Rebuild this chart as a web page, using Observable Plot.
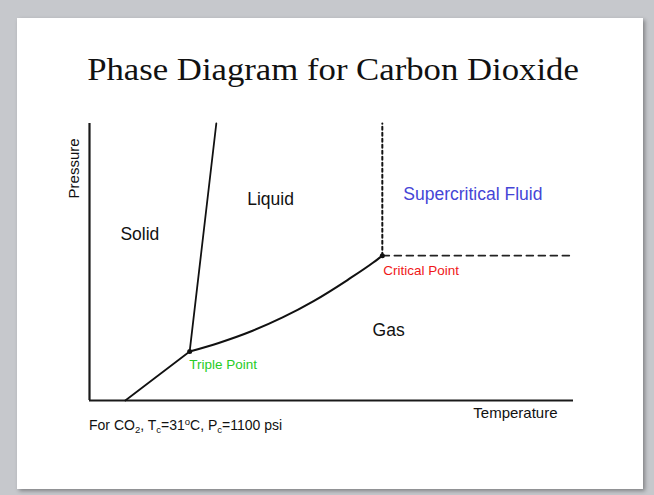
<!DOCTYPE html>
<html>
<head>
<meta charset="utf-8">
<script src="https://cdn.jsdelivr.net/npm/d3@7"></script>
<script src="https://cdn.jsdelivr.net/npm/@observablehq/plot@0.6"></script>
<style>
  html, body { margin: 0; padding: 0; }
  body { width: 654px; height: 495px; background: #c6c8cc; position: relative; overflow: hidden; font-family: "Liberation Sans", Arial, sans-serif; }
  .slide { position: absolute; left: 17px; top: 18px; width: 626px; height: 471px; background: #fff; box-shadow: 2px 2px 4px rgba(0,0,0,0.35); }
  .title { position: absolute; left: 0; width: 666px; top: 50px; text-align: center; font-family: "Liberation Serif", "Times New Roman", serif; font-size: 32px; color: #111; line-height: 38px; transform: scaleX(1.085); transform-origin: 333px 0; }
  #chart { position: absolute; left: 0; top: 100px; }
  .caption { position: absolute; left: 89px; top: 417px; font-size: 14px; color: #111; }
  .caption sub { font-size: 9.5px; vertical-align: -3px; line-height: 0; }
  .caption sup { font-size: 9.5px; vertical-align: 5px; line-height: 0; }
</style>
</head>
<body>
<div class="slide"></div>
<div class="title">Phase Diagram for Carbon Dioxide</div>
<div id="chart"></div>
<div class="caption">For CO<sub>2</sub>, T<sub>c</sub>=31<sup>o</sup>C, P<sub>c</sub>=1100 psi</div>
<script>
// Data in arbitrary chart units (temperature 0–100, pressure 0–100)
const tripleT = 20.7, tripleP = 17.7;
const criticalT = 60.5, criticalP = 52.3;
const sublimationT = [7.4, tripleT];
const sublimationP = [0, tripleP];
const meltingT = [tripleT, 26.2];
const meltingP = [tripleP, 100];
const vaporT = [tripleT, 26.7, 33.7, 39.9, 46.3, 53.3, 58.7, criticalT];
const vaporP = [tripleP, 20.8, 25.2, 30.0, 35.9, 43.5, 49.9, criticalP];
const axisMaxT = 100, axisMaxP = 100;

const regionNames = ["Solid", "Liquid", "Supercritical Fluid", "Gas"];
const regionT = [10.4, 37.4, 79.2, 61.8];
const regionP = [59.9, 72.6, 74.4, 25.3];

const pointNames = ["Triple Point", "Critical Point"];
const pointLabelT = [20.6, 60.7];
const pointLabelP = [13.0, 46.9];

const axisNames = ["Temperature", "Pressure"];

const toRows = (ts, ps) => ts.map((t, i) => ({t, p: ps[i]}));

const regionColor = {"Solid": "#111", "Liquid": "#111", "Gas": "#111", "Supercritical Fluid": "#4545d6"};
const pointColor = {"Triple Point": "#27cc27", "Critical Point": "#f01818"};

const chart = Plot.plot({
  width: 654,
  height: 340,
  marginLeft: 89,
  marginRight: 81,
  marginTop: 23,
  marginBottom: 40,
  style: {background: "transparent", fontFamily: "Liberation Sans, Arial, sans-serif"},
  x: {domain: [0, axisMaxT], axis: null},
  y: {domain: [0, axisMaxP], axis: null},
  marks: [
    Plot.ruleX([0], {y1: 0, y2: axisMaxP, stroke: "#1a1a1a", strokeWidth: 2.2}),
    Plot.ruleY([0], {x1: 0, x2: axisMaxT, stroke: "#1a1a1a", strokeWidth: 2.2}),
    Plot.line(toRows(sublimationT, sublimationP), {x: "t", y: "p", stroke: "#111", strokeWidth: 1.8}),
    Plot.line(toRows(meltingT, meltingP), {x: "t", y: "p", stroke: "#111", strokeWidth: 1.8}),
    Plot.line(toRows(vaporT, vaporP), {x: "t", y: "p", stroke: "#111", strokeWidth: 2.1, curve: "monotone-x"}),
    Plot.line([{t: criticalT, p: criticalP}, {t: criticalT, p: axisMaxP}], {x: "t", y: "p", stroke: "#111", strokeWidth: 2, strokeDasharray: "3,3"}),
    Plot.line([{t: criticalT, p: criticalP}, {t: axisMaxT, p: criticalP}], {x: "t", y: "p", stroke: "#222", strokeWidth: 1.6, strokeDasharray: "7,5"}),
    Plot.dot([{t: tripleT, p: tripleP}, {t: criticalT, p: criticalP}], {x: "t", y: "p", r: 2.5, fill: "#111"}),
    Plot.text(regionNames.map((n, i) => ({n, t: regionT[i], p: regionP[i]})), {
      x: "t", y: "p", text: "n", fontSize: 17.5, fill: d => regionColor[d.n]
    }),
    Plot.text(pointNames.map((n, i) => ({n, t: pointLabelT[i], p: pointLabelP[i]})), {
      x: "t", y: "p", text: "n", fontSize: 13.5, textAnchor: "start", fill: d => pointColor[d.n]
    }),
    Plot.text([axisNames[0]], {x: 88.0, y: -4.7, text: d => d, fontSize: 15, fill: "#111"}),
    Plot.text([axisNames[1]], {x: -3.1, y: 83.8, text: d => d, fontSize: 15, rotate: -90, fill: "#111"})
  ]
});
document.getElementById("chart").appendChild(chart);
</script>
</body>
</html>
